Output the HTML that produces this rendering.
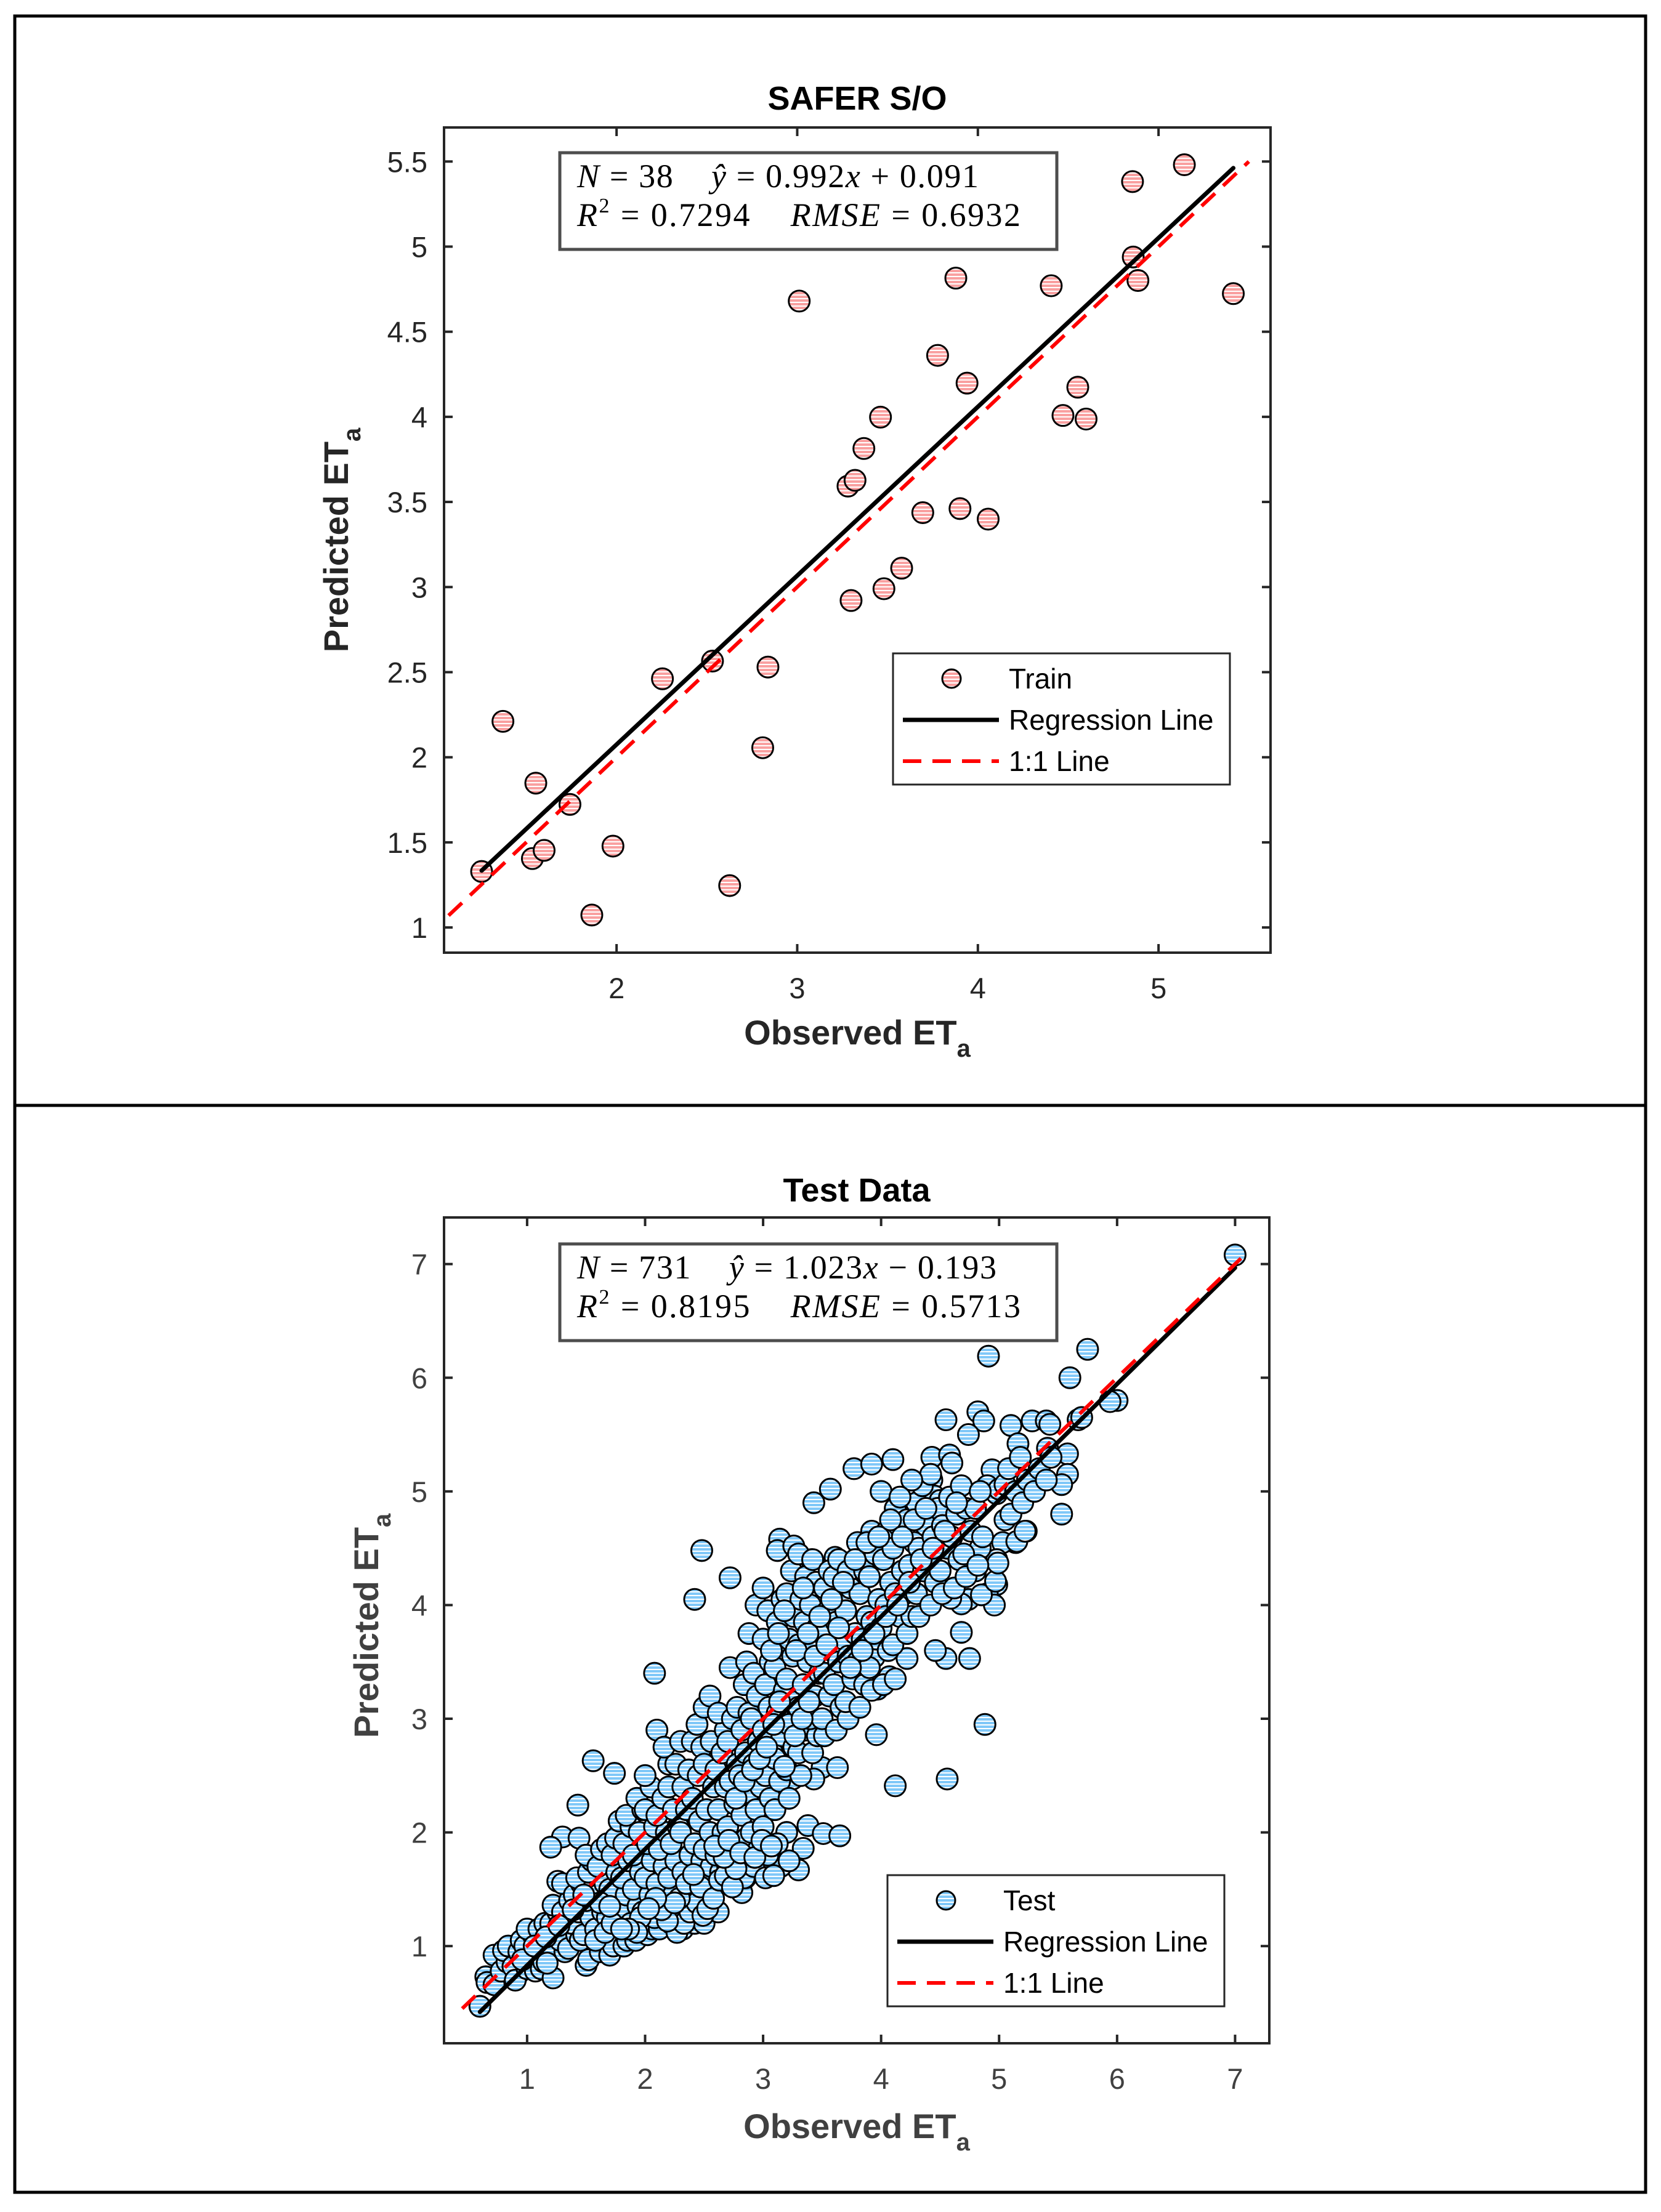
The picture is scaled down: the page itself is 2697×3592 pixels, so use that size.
<!DOCTYPE html>
<html><head><meta charset="utf-8"><style>
html,body{margin:0;padding:0;background:#fff;}
svg{display:block;}
</style></head><body>
<svg id="fig" xmlns="http://www.w3.org/2000/svg" width="2697" height="3592" viewBox="0 0 2697 3592" font-family="Liberation Sans, sans-serif">
<defs>
<pattern id="pinkHatch" patternUnits="userSpaceOnUse" width="12" height="6"><rect width="12" height="6" fill="#f9a0a0"/><rect y="4" width="12" height="2" fill="#ffffff"/></pattern>
<pattern id="blueHatch" patternUnits="userSpaceOnUse" width="12" height="6"><rect width="12" height="6" fill="#80c8f8"/><rect y="4" width="12" height="2" fill="#ffffff"/></pattern>
</defs>
<rect x="24" y="26" width="2648" height="3534" fill="none" stroke="#000" stroke-width="5"/>
<line x1="24" y1="1795" x2="2672" y2="1795" stroke="#000" stroke-width="5"/>
<g id="top"></g>
<g id="bottom"></g>
</svg>
<script>
// ---------- Top panel data (SAFER S/O, train) ----------
const trainObs = [1.253,1.371,1.553,1.534,1.599,1.742,1.863,1.980,2.254,2.531,2.626,2.809,2.838,3.011,3.281,3.320,3.298,3.369,3.461,3.480,3.578,3.695,3.777,3.878,3.901,3.940,4.057,4.406,4.471,4.553,4.599,4.856,4.860,4.886,5.143,5.414];
const trainPred = [1.329,2.211,1.848,1.405,1.453,1.723,1.073,1.478,2.461,2.565,1.246,2.056,2.530,4.680,3.593,3.627,2.921,3.814,3.998,2.990,3.111,3.437,4.361,4.815,3.461,4.198,3.399,4.770,4.008,4.174,3.987,5.382,4.939,4.801,5.481,4.724];
const trainFit = [0.992, 0.091];
const trainFitRange = [1.253, 5.414];
const trainOneToOne = [1.07, 5.5];
const topXTicks = [2,3,4,5];
const topYTicks = [1,1.5,2,2.5,3,3.5,4,4.5,5,5.5];
const topYTickLabels = ["1","1.5","2","2.5","3","3.5","4","4.5","5","5.5"];

// ---------- Bottom panel data (Test) ----------
const testPts = [
[7.0,7.08],[4.91,6.19],[5.75,6.25],[5.6,6.0],[6.0,5.8],[5.94,5.79],[5.67,5.63],[5.70,5.65],
[4.55,5.63],[4.82,5.7],[4.87,5.62],[4.74,5.5],[5.1,5.58],[5.28,5.62],[5.4,5.62],[5.43,5.59],[5.16,5.42],[5.41,5.38],[5.58,5.33],[5.58,5.15],[5.53,5.06],[5.53,4.8],[5.23,4.65],[5.14,4.55],[4.94,5.19],[4.9,5.05],[4.98,4.98],[5.0,5.02],[5.05,5.06],[5.05,4.75],[5.03,4.55],[4.98,4.4],[4.98,4.18],[4.9,4.1],[4.74,4.05],[4.8,4.3],[4.84,4.5],
[3.77,5.2],[3.92,5.24],[4.1,5.28],[4.43,5.3],[4.58,5.32],[4.6,5.25],[4.43,5.1],[4.45,4.96],[4.5,4.92],[3.57,5.02],[3.43,4.9],
[2.48,4.48],[2.42,4.05],[2.72,4.24],[3.14,4.58],[3.12,4.48],[3.26,4.52],[3.41,4.4],[3.61,4.42],[2.08,3.4],[2.1,2.9],[1.56,2.63],[1.74,2.52],[1.43,2.24],[1.3,1.96],[1.44,1.95],[1.2,1.87],[1.26,1.57],[0.72,0.92],[0.6,0.47],[0.65,0.73],[0.66,0.68],
[3.96,2.86],[4.88,2.95],[4.12,2.41],[4.56,2.47],[3.38,2.06],[3.51,1.99],[3.65,1.97],[3.34,1.86],[3.30,1.67],[3.2,2.0],[3.15,1.7],[2.98,1.66],[2.82,1.56],[2.82,1.47],[2.85,1.6],
[3.50,2.57],[3.63,2.57],[3.43,2.47],[3.25,2.47],
[4.75,3.53],[4.55,3.53],[4.46,3.6],[4.22,3.53],[4.07,3.37],[3.97,3.26],[3.94,3.54],[4.68,3.76],[4.68,4.01],[4.59,4.06],[4.96,4.0],[4.85,4.09],[4.97,4.21],[4.99,4.37],[5.15,4.56],[5.22,4.65],
[0.72,0.66],[0.78,0.78],[0.83,0.86],[0.8,0.96],[0.84,1.0],
[0.92,0.75],[0.88,0.82],[0.93,0.95],[0.95,1.05],[0.9,0.7],
[1.0,0.8],[1.03,0.9],[0.98,1.0],[1.05,1.1],[1.0,1.15],[1.07,0.78],
[1.12,0.8],[1.08,0.95],[1.13,1.05],[1.1,1.15],[1.15,1.2],[1.14,0.86],
[1.22,0.72],[1.18,0.95],[1.24,1.1],[1.2,1.2],[1.26,1.3],[1.22,1.36],[1.17,0.85],
[1.32,0.95],[1.28,1.05],[1.34,1.2],[1.3,1.3],[1.36,1.4],[1.3,1.55],[1.35,0.98],
[1.42,1.1],[1.38,1.2],[1.44,1.3],[1.4,1.45],[1.46,1.55],[1.42,1.6],[1.45,1.05],
[1.5,0.83],[1.52,0.88],[1.48,1.1],[1.54,1.25],[1.5,1.4],[1.56,1.5],[1.52,1.65],[1.55,1.75],[1.5,1.8],
[1.62,0.95],[1.58,1.15],[1.64,1.3],[1.6,1.45],[1.66,1.55],[1.6,1.7],[1.63,1.85],[1.68,1.9],
[1.7,0.92],[1.73,1.0],[1.68,1.25],[1.74,1.4],[1.7,1.5],[1.76,1.65],[1.72,1.8],[1.75,1.95],[1.78,2.1],
[1.82,1.0],[1.85,1.05],[1.78,1.3],[1.84,1.45],[1.8,1.6],[1.86,1.75],[1.82,1.9],[1.88,2.05],[1.84,2.15],
[1.92,1.05],[1.88,1.2],[1.94,1.35],[1.9,1.5],[1.96,1.65],[1.9,1.8],[1.95,2.0],[1.98,2.2],[1.93,2.3],
[2.02,1.1],[2.06,1.15],[1.98,1.3],[2.04,1.45],[2.0,1.6],[2.06,1.75],[2.02,1.9],[2.08,2.05],[2.0,2.2],[2.05,2.4],[2.0,2.5],
[2.12,1.15],[2.08,1.25],[2.14,1.4],[2.1,1.55],[2.16,1.7],[2.12,1.85],[2.18,2.0],[2.1,2.15],[2.15,2.3],[2.2,2.6],[2.16,2.75],
[2.22,1.2],[2.18,1.3],[2.24,1.45],[2.2,1.6],[2.26,1.75],[2.22,1.9],[2.28,2.05],[2.24,2.2],[2.2,2.4],[2.26,2.6],[2.3,2.8],
[2.32,1.15],[2.34,1.25],[2.3,1.35],[2.36,1.5],[2.32,1.65],[2.38,1.8],[2.3,2.0],[2.35,2.2],[2.32,2.4],[2.37,2.55],[2.4,2.8],
[2.42,1.2],[2.46,1.3],[2.4,1.45],[2.44,1.6],[2.48,1.75],[2.42,1.9],[2.46,2.1],[2.4,2.3],[2.45,2.5],[2.48,2.75],[2.44,2.95],
[2.5,1.2],[2.54,1.4],[2.52,1.55],[2.56,1.7],[2.5,1.85],[2.55,2.0],[2.52,2.2],[2.58,2.4],[2.5,2.6],[2.56,2.8],[2.5,3.1],[2.55,3.2],
[2.62,1.3],[2.58,1.5],[2.64,1.65],[2.6,1.8],[2.66,2.0],[2.62,2.2],[2.68,2.4],[2.6,2.55],[2.65,2.7],[2.68,2.9],[2.62,3.05],
[2.72,1.55],[2.7,1.7],[2.75,1.85],[2.7,2.05],[2.76,2.25],[2.72,2.45],[2.78,2.6],[2.7,2.8],[2.74,3.0],[2.78,3.1],[2.72,3.45],
[2.84,1.6],[2.8,1.75],[2.86,1.95],[2.82,2.15],[2.88,2.35],[2.8,2.5],[2.85,2.7],[2.82,2.9],[2.88,3.05],[2.84,3.3],[2.86,3.5],
[2.92,1.7],[2.96,1.85],[2.9,2.0],[2.94,2.2],[2.98,2.4],[2.92,2.6],[2.96,2.8],[2.9,3.0],[2.95,3.2],[2.92,3.4],[2.88,3.75],[2.94,4.0],
[3.02,1.6],[3.04,1.8],[3.0,2.05],[3.06,2.3],[3.02,2.5],[3.08,2.7],[3.0,2.9],[3.05,3.1],[3.02,3.3],[3.06,3.5],[3.0,3.7],[3.04,3.95],[3.0,4.15],
[3.12,1.9],[3.1,2.2],[3.14,2.45],[3.1,2.65],[3.16,2.85],[3.12,3.05],[3.18,3.25],[3.1,3.45],[3.15,3.65],[3.12,3.85],[3.16,4.05],
[3.22,2.3],[3.2,2.55],[3.26,2.75],[3.22,2.95],[3.28,3.15],[3.2,3.35],[3.25,3.55],[3.22,3.7],[3.26,3.9],[3.2,4.1],[3.24,4.3],
[3.32,2.5],[3.3,2.7],[3.36,2.9],[3.3,3.1],[3.34,3.3],[3.38,3.5],[3.3,3.65],[3.35,3.85],[3.32,4.05],[3.36,4.25],[3.3,4.45],
[3.42,2.7],[3.46,2.85],[3.4,3.0],[3.44,3.2],[3.48,3.4],[3.42,3.6],[3.46,3.8],[3.4,4.0],[3.45,4.2],[3.42,4.4],
[3.52,2.85],[3.5,3.0],[3.56,3.2],[3.52,3.4],[3.58,3.6],[3.5,3.75],[3.55,3.95],[3.52,4.15],[3.56,4.3],
[3.62,2.9],[3.66,3.1],[3.6,3.3],[3.64,3.5],[3.68,3.7],[3.62,3.85],[3.66,4.05],[3.6,4.25],[3.64,4.4],
[3.72,3.0],[3.7,3.15],[3.76,3.35],[3.72,3.55],[3.78,3.75],[3.7,3.95],[3.74,4.15],[3.72,4.3],
[3.82,3.1],[3.86,3.3],[3.8,3.5],[3.84,3.7],[3.88,3.9],[3.82,4.1],[3.86,4.3],[3.8,4.55],
[3.92,3.25],[3.9,3.45],[3.96,3.7],[3.92,3.85],[3.98,4.05],[3.9,4.25],[3.95,4.45],[3.92,4.65],
[4.02,3.3],[4.06,3.6],[4.0,3.8],[4.04,4.0],[4.08,4.2],[4.02,4.4],[4.05,4.65],[4.0,5.0],
[4.12,3.35],[4.1,3.65],[4.16,3.9],[4.12,4.1],[4.18,4.3],[4.1,4.5],[4.15,4.7],[4.12,4.85],
[4.22,3.75],[4.26,3.9],[4.2,4.1],[4.24,4.35],[4.28,4.55],[4.22,4.75],[4.25,4.95],
[4.32,3.9],[4.3,4.1],[4.36,4.3],[4.32,4.5],[4.38,4.7],[4.3,4.9],[4.35,5.05],
[4.42,4.0],[4.46,4.2],[4.4,4.4],[4.44,4.6],[4.48,4.85],[4.42,5.15],
[4.52,4.1],[4.5,4.3],[4.56,4.5],[4.52,4.7],[4.58,4.95],
[4.62,4.15],[4.66,4.4],[4.6,4.6],[4.64,4.8],[4.68,5.05],
[4.72,4.25],[4.7,4.45],[4.76,4.65],[4.72,4.85],
[4.82,4.35],[4.86,4.6],[4.8,4.85],[4.84,5.0],
[5.1,4.8],[5.14,5.0],[5.08,5.2],[5.2,4.9],[5.24,5.1],[5.18,5.3],[5.3,5.0],[5.34,5.2],[5.4,5.1],[5.44,5.3],
[2.27,1.12],[2.33,1.2],[2.38,1.3],[2.44,1.38],[2.49,1.27],[2.29,1.42],[2.35,1.55],[2.47,1.52],[2.53,1.33],[2.58,1.42],[2.41,1.63],[2.63,1.58],
[2.19,1.22],[2.14,1.32],[2.25,1.38],[2.09,1.42],[1.96,1.25],[2.03,1.33],[1.93,1.12],[1.86,1.15],
[2.68,1.62],[2.74,1.52],[2.77,1.68],[2.67,1.78],[2.59,1.88],[2.71,1.93],[2.81,1.82],[2.93,1.78],[2.99,1.93],[3.07,1.88],[3.09,1.62],[3.22,1.75],
[2.77,2.3],[2.84,2.45],[2.91,2.55],[2.97,2.65],[3.03,2.75],[3.09,2.95],[3.14,3.15],[3.18,2.58],[3.27,2.85],[3.33,3.0],[3.39,3.15],
[3.07,3.6],[3.13,3.75],[3.18,3.95],[3.28,3.6],[3.38,3.75],[3.48,3.9],[3.58,4.05],[3.68,4.2],[3.44,3.55],[3.54,3.65],[3.64,3.8],[3.34,4.15],
[3.74,3.45],[3.84,3.6],[3.94,3.75],[4.04,3.9],[4.14,4.0],[4.24,4.2],[4.34,4.4],[4.44,4.5],[4.54,4.65],[4.64,4.9],
[3.78,4.4],[3.88,4.55],[3.98,4.6],[4.08,4.75],[4.18,4.6],[4.28,4.75],[4.38,4.85],[4.26,5.1],[4.16,4.95],
[1.58,1.05],[1.66,1.12],[1.72,1.2],[1.8,1.15],[1.62,1.38],[1.7,1.35],
[0.96,0.88],[1.06,1.0],[1.16,1.08],[1.27,1.18],[1.39,1.32],[1.48,1.45]
];
const testFit = [1.023, -0.193];
const testFitRange = [0.6, 7.0];
const testOneToOne = [0.45, 7.05];
const botXTicks = [1,2,3,4,5,6,7];
const botYTicks = [1,2,3,4,5,6,7];

const NS = "http://www.w3.org/2000/svg";
function mk(parent, tag, attrs, text) {
  const e = document.createElementNS(NS, tag);
  for (const k in attrs) e.setAttribute(k, attrs[k]);
  if (text !== undefined) e.textContent = text;
  parent.appendChild(e);
  return e;
}
function makeAxes(cfg) {
  const sx = v => cfg.L + (v - cfg.x0) / (cfg.x1 - cfg.x0) * (cfg.R - cfg.L);
  const sy = v => cfg.B - (v - cfg.y0) / (cfg.y1 - cfg.y0) * (cfg.B - cfg.T);
  return {sx, sy};
}
function drawPanel(g, cfg, obs, pred, fit, fitRange, one, xTicks, yTicks, yLabels, fillId, seriesName, stats, title) {
  const {sx, sy} = makeAxes(cfg);
  const clip = mk(g, "clipPath", {id: cfg.id + "-clip"});
  mk(clip, "rect", {x: cfg.L, y: cfg.T, width: cfg.R - cfg.L, height: cfg.B - cfg.T});
  const t = mk(g, "text", {x: (cfg.L + cfg.R) / 2, y: cfg.titleY, "text-anchor": "middle", "font-size": 54, "font-weight": "bold", fill: "#000"}, title);
  
  
  const pg = mk(g, "g", {"clip-path": "url(#" + cfg.id + "-clip)"});
  
  
  for (let i = 0; i < obs.length; i++) {
    const c = mk(pg, "circle", {cx: sx(obs[i]), cy: sy(pred[i]), r: 17, fill: "url(#" + fillId + ")", stroke: "#000", "stroke-width": 3});
    
    
  }
  const rl = mk(g, "line", {x1: sx(fitRange[0]), y1: sy(fit[0] * fitRange[0] + fit[1]), x2: sx(fitRange[1]), y2: sy(fit[0] * fitRange[1] + fit[1]), stroke: "#000", "stroke-width": 7, "stroke-linecap": "round"});
  
  
  const ol = mk(g, "line", {x1: sx(one[0]), y1: sy(one[0]), x2: sx(one[1]), y2: sy(one[1]), stroke: "#ff0000", "stroke-width": 6, "stroke-dasharray": "30 18"});
  
  
  const box = mk(g, "rect", {x: cfg.L, y: cfg.T, width: cfg.R - cfg.L, height: cfg.B - cfg.T, fill: "none", stroke: "#262626", "stroke-width": 4});
  
  
  xTicks.forEach(v => {
    const x = sx(v);
    mk(g, "line", {x1: x, y1: cfg.B, x2: x, y2: cfg.B - 14, stroke: "#262626", "stroke-width": 4});
    mk(g, "line", {x1: x, y1: cfg.T, x2: x, y2: cfg.T + 14, stroke: "#262626", "stroke-width": 4});
    const tl = mk(g, "text", {x: x, y: cfg.B + 74, "text-anchor": "middle", "font-size": 47, fill: cfg.tickColor}, String(v));
    
    
  });
  yTicks.forEach((v, i) => {
    const y = sy(v);
    mk(g, "line", {x1: cfg.L, y1: y, x2: cfg.L + 14, y2: y, stroke: "#262626", "stroke-width": 4});
    mk(g, "line", {x1: cfg.R, y1: y, x2: cfg.R - 14, y2: y, stroke: "#262626", "stroke-width": 4});
    const tl = mk(g, "text", {x: cfg.L - 27, y: y + 17, "text-anchor": "end", "font-size": 47, fill: cfg.tickColor}, yLabels[i]);
    
    
  });
  const xl = mk(g, "text", {x: (cfg.L + cfg.R) / 2, y: cfg.xLabelY, "text-anchor": "middle", "font-size": 56, "font-weight": "bold", fill: cfg.labelColor});
  
  
  mk(xl, "tspan", {}, "Observed ET");
  mk(xl, "tspan", {"font-size": 40, dy: 20}, "a");
  const yl = mk(g, "text", {x: 0, y: 0, "text-anchor": "middle", "font-size": 56, "font-weight": "bold", fill: cfg.labelColor, transform: "translate(" + cfg.yLabelX + "," + cfg.yLabelY + ") rotate(-90)"});
  
  
  mk(yl, "tspan", {}, "Predicted ET");
  mk(yl, "tspan", {"font-size": 40, dy: 20}, "a");
  const sb = mk(g, "g", {});
  
  
  mk(sb, "rect", {x: cfg.sbX, y: cfg.sbY, width: 807, height: 157, fill: "#fff", stroke: "#4d4d4d", "stroke-width": 5});
  const l1 = mk(sb, "text", {x: cfg.sbX + 28, y: cfg.sbY + 56, "font-size": 54, "font-family": "Liberation Serif, serif", fill: "#000", textLength: cfg.l1Len, lengthAdjust: "spacing"});
  mk(l1, "tspan", {"font-style": "italic"}, "N");
  mk(l1, "tspan", {}, " = " + stats[0] + "\u00a0\u00a0\u00a0\u00a0");
  mk(l1, "tspan", {"font-style": "italic"}, "\u0177");
  mk(l1, "tspan", {}, " = " + stats[1]);
  mk(l1, "tspan", {"font-style": "italic"}, "x");
  mk(l1, "tspan", {}, stats[2]);
  const l2 = mk(sb, "text", {x: cfg.sbX + 28, y: cfg.sbY + 119, "font-size": 54, "font-family": "Liberation Serif, serif", fill: "#000", textLength: 720, lengthAdjust: "spacing"});
  mk(l2, "tspan", {"font-style": "italic"}, "R");
  mk(l2, "tspan", {"font-size": 34, dy: -22}, "2");
  mk(l2, "tspan", {dy: 22}, " = " + stats[3] + "\u00a0\u00a0\u00a0\u00a0");
  mk(l2, "tspan", {"font-style": "italic"}, "RMSE");
  mk(l2, "tspan", {}, " = " + stats[4]);
  const lg = mk(g, "g", {});
  
  
  mk(lg, "rect", {x: cfg.lgX, y: cfg.lgY, width: 547, height: 213, fill: "#fff", stroke: "#262626", "stroke-width": 3});
  const e1 = mk(lg, "circle", {cx: cfg.lgX + 95, cy: cfg.lgY + 41, r: 15, fill: "url(#" + fillId + ")", stroke: "#000", "stroke-width": 3});
  
  
  mk(lg, "text", {x: cfg.lgX + 188, y: cfg.lgY + 57, "font-size": 46, fill: "#000"}, seriesName);
  mk(lg, "line", {x1: cfg.lgX + 16, y1: cfg.lgY + 108, x2: cfg.lgX + 172, y2: cfg.lgY + 108, stroke: "#000", "stroke-width": 7});
  mk(lg, "text", {x: cfg.lgX + 188, y: cfg.lgY + 124, "font-size": 46, fill: "#000"}, "Regression Line");
  mk(lg, "line", {x1: cfg.lgX + 16, y1: cfg.lgY + 175, x2: cfg.lgX + 172, y2: cfg.lgY + 175, stroke: "#ff0000", "stroke-width": 6, "stroke-dasharray": "30 18"});
  mk(lg, "text", {x: cfg.lgX + 188, y: cfg.lgY + 191, "font-size": 46, fill: "#000"}, "1:1 Line");
}

const topCfg = {id: "top", L: 721, R: 2063, T: 207, B: 1547, x0: 1.045, x1: 5.62, y0: 0.852, y1: 5.70,
  titleY: 178, xLabelY: 1696, yLabelX: 565, yLabelY: 877, tickColor: "#262626", labelColor: "#262626",
  sbX: 909, sbY: 248, lgX: 1450, lgY: 1061, l1Len: 652};
const topG = document.getElementById("top");


drawPanel(topG, topCfg, trainObs, trainPred, trainFit, trainFitRange, trainOneToOne, topXTicks, topYTicks, topYTickLabels,
  "pinkHatch", "Train", ["38", "0.992", " + 0.091", "0.7294", "0.6932"], "SAFER S/O");

const testObs = testPts.map(p => p[0]);
const testPred = testPts.map(p => p[1]);
const botCfg = {id: "bot", L: 721, R: 2061, T: 1977, B: 3318, x0: 0.296, x1: 7.29, y0: 0.145, y1: 7.41,
  titleY: 1951, xLabelY: 3472, yLabelX: 614, yLabelY: 2640, tickColor: "#404040", labelColor: "#404040",
  sbX: 909, sbY: 2020, lgX: 1441, lgY: 3045, l1Len: 681};
const botG = document.getElementById("bottom");


drawPanel(botG, botCfg, testObs, testPred, testFit, testFitRange, testOneToOne, botXTicks, botYTicks, botYTicks.map(String),
  "blueHatch", "Test", ["731", "1.023", " \u2212 0.193", "0.8195", "0.5713"], "Test Data");
</script>
</body></html>
